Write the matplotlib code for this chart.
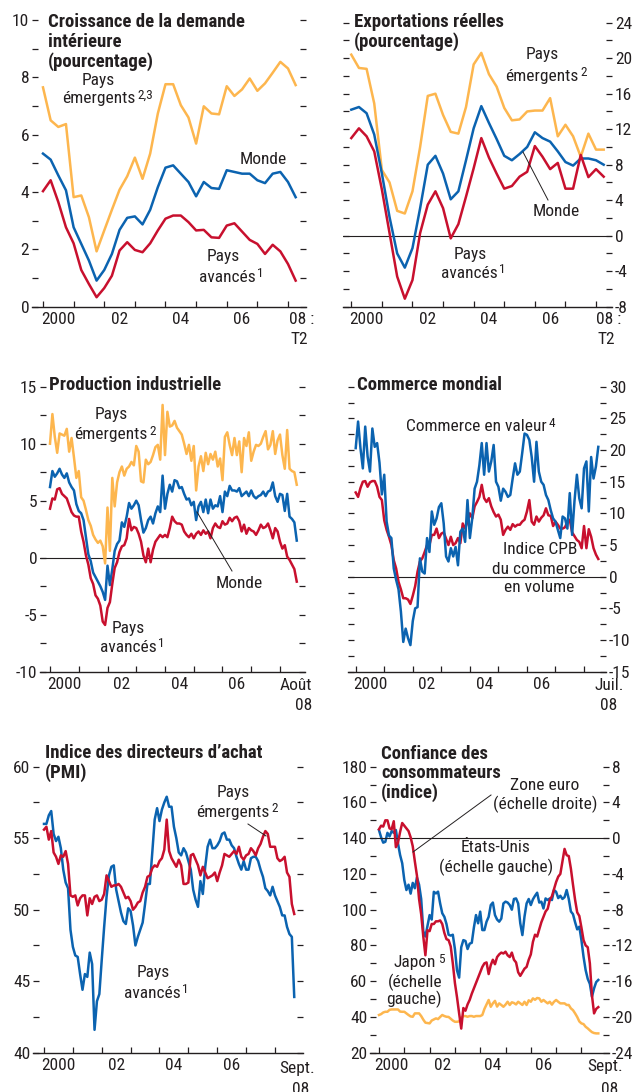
import numpy as np
import matplotlib
matplotlib.use("Agg")
import matplotlib.pyplot as plt
import matplotlib.font_manager as fm
from matplotlib.lines import Line2D

# narrow font if one is installed
names = {f.name for f in fm.fontManager.ttflist}
dejavu_cond = any(f.name == 'DejaVu Sans' and 'condensed' in str(f.stretch)
                  for f in fm.fontManager.ttflist)
if 'Liberation Sans Narrow' in names:
    FAM, FS, STRETCH = 'Liberation Sans Narrow', 12.5, 'normal'
elif 'Roboto Condensed' in names:
    FAM, FS, STRETCH = 'Roboto Condensed', 12.5, 'normal'
elif dejavu_cond:
    FAM, FS, STRETCH = 'DejaVu Sans', 11.5, 'condensed'
else:
    FAM, FS, STRETCH = 'Liberation Sans', 11.5, 'normal'
TFS = FS + 1.0   # titles

plt.rcParams['font.family'] = [FAM, 'DejaVu Sans']
plt.rcParams['font.stretch'] = STRETCH
plt.rcParams['text.color'] = '#231f20'
plt.rcParams['xtick.color'] = '#231f20'
plt.rcParams['ytick.color'] = '#231f20'

YEL = '#FDB64E'
BLUE = '#0B63B0'
RED = '#C8102E'

# ---- data -------------------------------------------------------------
# Croissance de la demande intérieure, trimestriel 2000T1-2008T2
dom_emerging = [7.65, 6.5, 6.27, 6.37, 3.82, 3.88, 3.12, 1.93, 2.66, 3.38, 4.08, 4.55,
                5.2, 4.46, 5.34, 6.74, 7.76, 7.76, 7.03, 6.6, 5.69, 6.99, 6.74, 6.71,
                7.69, 7.35, 7.58, 7.96, 7.53, 7.79, 8.16, 8.54, 8.31, 7.73]
dom_world = [5.34, 5.13, 4.58, 4.06, 2.77, 2.19, 1.61, 0.91, 1.28, 1.84, 2.68, 3.1,
             3.15, 2.87, 3.38, 4.17, 4.85, 4.93, 4.64, 4.35, 3.85, 4.35, 4.14, 4.11,
             4.76, 4.7, 4.64, 4.64, 4.41, 4.31, 4.64, 4.7, 4.35, 3.82]
dom_advanced = [4.03, 4.41, 3.65, 2.77, 2.21, 1.28, 0.79, 0.33, 0.65, 1.08, 1.96, 2.25,
                1.98, 1.9, 2.21, 2.66, 3.07, 3.18, 3.18, 2.95, 2.66, 2.68, 2.42, 2.4,
                2.83, 2.91, 2.62, 2.33, 2.19, 1.84, 2.16, 1.93, 1.49, 0.91]

# Exportations réelles, trimestriel 2000T1-2008T2
exp_emerging = [20.4, 18.9, 18.8, 14.9, 7.4, 6.0, 2.8, 2.5, 5.0, 10.0, 15.75, 16.0,
                13.6, 11.7, 11.5, 14.5, 19.3, 20.6, 18.2, 16.8, 14.4, 13.0, 13.1, 14.0,
                14.1, 14.1, 15.5, 11.2, 12.5, 11.2, 8.9, 11.5, 9.7, 9.7]
exp_world = [14.2, 14.5, 13.8, 11.4, 7.0, 2.1, -2.0, -3.6, -1.4, 3.1, 8.0, 9.0,
             7.0, 4.1, 5.0, 8.5, 12.1, 14.6, 12.7, 10.9, 9.0, 8.5, 9.2, 10.0,
             11.65, 11.0, 10.6, 9.5, 8.3, 7.9, 8.7, 8.7, 8.5, 8.0]
exp_advanced = [11.0, 12.1, 11.2, 9.5, 5.2, 0.3, -4.6, -7.1, -5.0, 0.3, 3.5, 5.0,
                3.1, -0.3, 1.3, 4.4, 7.6, 11.0, 8.8, 7.0, 5.3, 5.6, 6.65, 7.2,
                10.1, 8.9, 7.5, 8.2, 5.3, 5.3, 9.1, 6.6, 7.5, 6.65]

# Production industrielle, mensuel janv. 2000 - août 2008
ip_emerging = [10.0, 12.6, 10.6, 9.2, 10.9, 10.8, 10.7, 11.3, 9.3, 10.5, 8.8, 7.0,
               7.6, 5.3, 5.0, 4.2, 3.3, 2.8, 2.0, 1.6, 1.3, 1.5, 1.0, -0.5,
               4.4, 0.6, 7.0, 4.5, 6.6, 7.5, 8.0, 7.2, 7.8, 8.0, 8.4, 8.1,
               9.8, 9.3, 6.7, 6.6, 8.6, 8.2, 8.4, 9.0, 9.7, 9.9, 8.6, 13.4,
               9.0, 12.8, 11.5, 11.6, 12.0, 11.4, 11.1, 10.8, 10.0, 9.1, 9.9, 8.5,
               9.8, 5.9, 8.0, 8.9, 7.6, 9.2, 8.2, 9.1, 8.6, 9.3, 8.0, 8.7,
               6.8, 10.6, 11.0, 9.9, 9.0, 10.5, 9.0, 10.2, 7.5, 10.5, 9.8, 11.0,
               8.5, 9.3, 9.9, 9.8, 10.0, 10.6, 11.1, 9.5, 9.9, 11.1, 9.1, 10.3,
               10.8, 9.0, 7.8, 11.2, 7.8, 7.6, 7.5, 6.4]
ip_world = [6.2, 7.6, 7.1, 7.4, 7.8, 7.3, 7.0, 7.4, 6.6, 6.2, 5.9, 4.7,
            4.1, 3.9, 3.3, 1.8, 0.3, -0.3, -1.3, -1.7, -2.1, -2.5, -3.0, -3.7,
            -0.7, -2.4, -1.0, 0.6, 1.2, 1.5, 3.1, 2.7, 3.6, 4.8, 4.3, 4.6,
            5.0, 4.6, 3.3, 2.2, 2.6, 3.3, 3.6, 3.0, 3.9, 4.5, 4.0, 7.2,
            4.3, 5.6, 6.4, 5.8, 6.8, 6.7, 6.1, 6.2, 5.6, 5.1, 5.2, 4.6,
            4.9, 3.3, 4.5, 4.9, 4.0, 5.1, 3.9, 5.1, 4.3, 4.6, 4.5, 5.4,
            4.0, 5.8, 5.4, 6.3, 5.9, 5.9, 5.8, 6.1, 5.4, 5.6, 5.8, 5.4,
            5.9, 5.4, 5.2, 5.4, 5.5, 5.8, 5.4, 5.8, 5.9, 6.6, 5.4, 4.9,
            5.6, 5.5, 4.1, 5.6, 3.6, 3.4, 3.1, 1.5]
ip_advanced = [4.3, 5.2, 5.1, 6.0, 6.1, 5.6, 5.4, 5.2, 4.6, 4.0, 3.7, 3.6,
               3.6, 2.3, 1.4, 0.2, -0.6, -1.8, -2.3, -3.3, -3.6, -4.2, -5.6, -5.9,
               -4.4, -3.9, -2.3, -0.9, -0.4, 0.5, 1.0, 1.1, 1.7, 3.4, 2.4, 2.7,
               2.6, 2.1, 1.4, 0.2, -0.4, 0.8, -0.4, 0.7, 1.4, 1.7, 2.0, 1.8,
               2.0, 1.8, 2.6, 3.6, 3.2, 3.0, 3.0, 2.9, 2.3, 2.0, 1.8, 2.1,
               1.7, 2.1, 2.3, 2.0, 2.4, 2.1, 2.3, 1.7, 2.6, 3.0, 2.7, 2.6,
               3.2, 2.9, 3.0, 3.5, 3.2, 3.5, 3.6, 3.2, 2.3, 2.9, 2.1, 2.6,
               2.4, 2.3, 2.0, 2.4, 2.9, 2.6, 2.7, 3.0, 2.4, 1.7, 2.6, 2.3,
               1.4, 0.8, 1.1, 0.1, -0.2, -0.6, -1.0, -2.1]

# Commerce mondial, mensuel janv. 2000 - juil. 2008
trade_value = [20.3, 24.5, 20.3, 17.1, 23.7, 19.0, 16.6, 23.4, 20.5, 21.1, 18.0, 13.0,
               16.1, 8.7, 6.5, 6.1, 1.3, -0.5, -2.0, -5.5, -10.3, -8.2, -9.7, -10.8,
               -7.0, -5.0, -4.8, 2.9, 0.8, 0.5, 6.1, 3.9, 10.3, 8.2, 9.2, 11.0,
               11.6, 8.4, 3.2, 2.4, 4.5, 3.2, 4.7, 1.8, 7.1, 7.6, 5.5, 12.1,
               6.1, 9.2, 13.9, 15.0, 17.6, 21.1, 16.1, 21.1, 16.6, 18.2, 20.8, 15.0,
               14.2, 12.0, 13.9, 13.4, 12.6, 12.9, 15.5, 17.9, 16.1, 16.6, 19.5, 22.6,
               22.4, 21.6, 18.9, 15.0, 21.3, 16.6, 15.0, 14.5, 12.9, 12.1, 10.5, 9.2,
               8.7, 7.4, 6.1, 9.5, 9.2, 7.6, 13.2, 6.6, 12.0, 16.1, 12.4, 10.8,
               17.1, 18.2, 10.3, 18.9, 15.5, 17.4, 20.5]
trade_volume = [13.3, 12.6, 14.0, 15.0, 15.1, 14.2, 14.9, 15.1, 15.1, 14.2, 12.6, 12.1,
                8.9, 7.4, 6.3, 5.0, 2.6, 1.3, -0.8, -2.0, -3.4, -3.4, -3.6, -4.3,
                -3.0, -1.5, 0.8, 2.4, 2.9, 3.9, 5.0, 5.0, 6.6, 6.6, 7.6, 6.1,
                6.8, 7.0, 6.0, 5.0, 6.3, 5.0, 5.3, 6.1, 5.3, 8.4, 7.6, 8.7,
                10.0, 9.2, 11.1, 11.8, 12.6, 14.5, 12.4, 11.8, 12.4, 11.1, 10.2, 9.5,
                9.8, 9.0, 6.6, 7.4, 7.9, 7.4, 8.3, 7.9, 8.2, 8.2, 8.7, 9.0,
                10.3, 12.1, 8.7, 8.2, 9.5, 8.7, 9.3, 9.7, 10.8, 9.7, 9.6, 8.0,
                8.7, 8.2, 7.6, 7.6, 7.8, 8.7, 9.0, 7.0, 6.4, 5.8, 5.5, 4.5,
                8.0, 4.5, 7.5, 6.3, 4.5, 3.5, 2.8]

# PMI, mensuel janv. 2000 - sept. 2008
pmi_advanced = [56.0, 56.0, 56.6, 56.9, 55.3, 54.8, 55.1, 54.3, 52.8, 51.9, 51.5, 48.6,
                47.4, 46.8, 46.7, 45.5, 44.4, 45.5, 45.3, 47.0, 46.2, 41.6, 43.6, 44.1,
                46.5, 48.8, 50.9, 52.4, 53.0, 53.1, 51.4, 50.6, 49.8, 49.2, 49.0, 50.1,
                49.9, 48.9, 47.5, 48.1, 48.6, 49.1, 50.4, 51.8, 51.8, 54.0, 56.3, 57.1,
                56.2, 57.0, 57.5, 57.9, 57.2, 57.2, 55.8, 55.0, 54.0, 53.8, 54.3, 54.0,
                53.4, 52.8, 51.4, 50.7, 50.2, 52.0, 51.1, 53.0, 54.4, 54.9, 54.3, 54.3,
                54.5, 54.8, 55.3, 55.4, 54.9, 54.9, 54.5, 54.3, 53.7, 53.2, 52.8, 53.4,
                52.8, 52.8, 53.6, 53.7, 53.7, 53.4, 52.8, 52.3, 51.5, 51.3, 51.0, 51.6,
                51.0, 50.6, 50.2, 49.6, 49.6, 48.8, 48.3, 48.1, 43.9]
pmi_emerging = [55.6, 55.8, 54.9, 55.5, 54.0, 53.7, 53.2, 53.8, 53.7, 54.1, 53.2, 51.0,
                50.9, 51.0, 50.3, 50.8, 51.0, 51.0, 49.6, 50.8, 50.4, 50.9, 51.0, 50.6,
                50.7, 51.1, 52.4, 52.0, 51.6, 51.7, 51.7, 51.8, 51.6, 51.2, 50.8, 50.9,
                50.6, 50.0, 50.2, 50.5, 50.6, 51.2, 51.6, 52.3, 52.4, 52.9, 53.1, 53.0,
                53.4, 53.6, 54.2, 56.3, 54.1, 53.6, 53.3, 53.0, 53.5, 53.1, 51.8, 51.8,
                51.9, 53.8, 53.9, 53.5, 53.1, 52.4, 53.0, 52.6, 52.2, 52.3, 52.4, 52.6,
                52.0, 52.6, 53.1, 53.9, 53.8, 53.7, 53.9, 54.1, 53.9, 54.4, 53.7, 53.5,
                53.8, 53.9, 54.3, 54.1, 53.8, 54.3, 54.6, 55.1, 55.5, 55.3, 54.4, 54.4,
                54.4, 53.6, 53.4, 53.5, 53.7, 52.6, 52.3, 50.4, 49.7]

# Confiance des consommateurs, mensuel janv. 2000 - sept. 2008
conf_us = [144.5, 140.5, 137.5, 138.0, 143.0, 141.0, 144.0, 143.0, 144.6, 137.1, 130.6, 126.0,
           116.6, 111.0, 114.0, 109.0, 115.0, 112.0, 118.0, 114.0, 106.0, 88.0, 85.0, 91.0,
           97.0, 94.5, 110.0, 109.1, 110.1, 103.5, 98.0, 96.0, 92.0, 86.0, 85.5, 86.0,
           78.0, 66.0, 62.0, 79.0, 83.0, 82.5, 78.0, 81.0, 81.5, 90.0, 97.0, 92.4,
           98.9, 88.6, 88.6, 93.3, 96.0, 102.6, 104.0, 97.0, 94.5, 93.3, 95.0, 103.5,
           104.5, 104.0, 102.6, 100.0, 106.0, 106.3, 103.5, 92.4, 85.8, 96.1, 103.5, 106.0,
           102.6, 105.8, 107.8, 109.5, 104.0, 104.5, 100.7, 106.3, 105.4, 106.3, 105.4, 111.0,
           110.0, 106.5, 107.8, 106.0, 107.0, 111.0, 106.0, 99.0, 97.5, 93.0, 89.0, 90.5,
           83.0, 73.7, 66.2, 61.3, 58.5, 51.3, 56.0, 59.5, 60.7]
conf_euro = [1.0, 1.4, 1.3, 2.0, 2.0, 1.1, 1.0, 1.9, -1.0, -0.5, 0.7, 1.7,
             1.4, 1.1, 0.8, 0.1, -0.9, -2.6, -4.2, -6.8, -8.5, -11.0, -13.1, -10.3,
             -10.4, -9.6, -9.6, -9.3, -9.3, -9.2, -9.6, -10.6, -11.3, -11.4, -12.1, -14.0,
             -16.2, -17.8, -19.6, -21.3, -19.0, -19.3, -18.6, -18.1, -17.4, -16.8, -16.2, -15.6,
             -15.0, -14.4, -14.0, -13.9, -15.2, -14.2, -13.6, -14.1, -13.3, -13.0, -12.8, -12.9,
             -12.7, -13.1, -13.3, -12.8, -13.6, -13.9, -15.0, -15.4, -15.0, -14.6, -14.4, -13.6,
             -13.0, -11.6, -10.8, -11.0, -10.2, -9.4, -8.8, -8.2, -7.9, -6.9, -6.5, -5.7,
             -4.9, -4.3, -4.0, -2.6, -1.2, -1.9, -2.0, -3.4, -5.2, -6.9, -8.3, -8.7,
             -10.0, -11.4, -12.0, -12.2, -14.0, -17.6, -19.6, -19.1, -18.9]
conf_japan = [41.1, 41.6, 42.5, 42.9, 42.9, 44.0, 44.2, 44.2, 44.2, 44.2, 43.0, 42.9,
              42.9, 42.0, 41.1, 40.3, 40.1, 42.0, 42.0, 42.0, 40.5, 38.5, 36.8, 36.6,
              36.4, 38.0, 38.6, 39.2, 38.8, 40.0, 41.1, 40.5, 40.1, 40.0, 39.0, 38.0,
              37.3, 37.3, 37.5, 39.5, 40.5, 40.5, 40.1, 40.5, 40.5, 40.1, 40.5, 40.5,
              40.5, 41.1, 44.5, 47.0, 49.5, 45.7, 47.6, 49.0, 45.8, 47.6, 46.7, 45.7,
              46.9, 48.5, 46.7, 48.2, 47.8, 47.0, 48.5, 47.6, 46.7, 48.5, 46.7, 49.3,
              48.5, 50.4, 49.6, 50.6, 50.4, 48.5, 49.5, 48.5, 47.6, 48.5, 46.9, 48.5,
              49.5, 48.5, 47.6, 47.6, 47.6, 46.7, 46.7, 44.8, 43.8, 42.0, 40.0, 37.5,
              36.4, 36.0, 34.5, 33.6, 32.5, 31.5, 31.0, 30.8, 30.8]

year_labels = ['2000', '02', '04', '06']

quarters = 2000 + np.arange(len(dom_world)) / 4
months_ip = 2000 + np.arange(len(ip_world)) / 12
months_trade = 2000 + np.arange(len(trade_value)) / 12
months_pmi = 2000 + np.arange(len(pmi_advanced)) / 12
months_conf = 2000 + np.arange(len(conf_us)) / 12

# ---- figure -----------------------------------------------------------
W, H = 636, 1092
fig = plt.figure(figsize=(W / 100, H / 100), dpi=100)
R = fig.canvas.get_renderer()
LW = 1.8


def px_axes(x0, x1, y0, y1):
    return fig.add_axes([x0 / W, 1 - y1 / H, (x1 - x0) / W, (y1 - y0) / H])


def ftext(x, y, s, size=None, **kw):
    kw.setdefault('ha', 'center')
    kw.setdefault('va', 'center')
    return fig.text(x / W, 1 - y / H, s, fontsize=size or FS, **kw)


def word_sup(x, y, word, s):
    # word centred at (x, y), superscript just after it
    t = ftext(x, y, word)
    bb = t.get_window_extent(renderer=R)
    fig.text((bb.x1 + 2) / W, (bb.y1 - 4) / H, s, fontsize=9.5,
             ha='left', va='center')


def leader(x0, y0, x1, y1):
    fig.add_artist(Line2D([x0 / W, x1 / W], [1 - y0 / H, 1 - y1 / H],
                          transform=fig.transFigure, color='#231f20', lw=0.7))


def style(ax, xlim, ylim, major, minor, side):
    ax.set_xlim(*xlim)
    ax.set_ylim(*ylim)
    for s in ['top', 'left', 'right']:
        ax.spines[s].set_visible(False)
    ax.spines['bottom'].set_linewidth(1.0)
    ax.spines['bottom'].set_color('#231f20')
    ax.set_xticks(range(2000, 2009))
    ax.set_xticklabels([])
    ax.set_xticks([2000.5, 2002.5, 2004.5, 2006.5], minor=True)
    ax.set_xticklabels(year_labels, minor=True, fontsize=FS)
    ax.tick_params(axis='x', which='major', direction='in', length=4, width=0.9)
    ax.tick_params(axis='x', which='minor', length=0, pad=4)
    ax.set_yticks(major)
    ax.set_yticks(minor, minor=True)
    ax.tick_params(axis='y', which='both', direction='in', length=4.5, width=0.9,
                   left=True, right=True, pad=2, labelsize=FS,
                   labelleft=(side == 'left'), labelright=(side == 'right'))
    ax.set_yticklabels([('%g' % v) for v in major])


# Panel 1 : demande intérieure
ax1 = px_axes(32, 306, 20, 306.7)
ax1.plot(quarters, dom_emerging, color=YEL, lw=LW)
ax1.plot(quarters, dom_world, color=BLUE, lw=LW)
ax1.plot(quarters, dom_advanced, color=RED, lw=LW)
style(ax1, (1999.641, 2008.588), (0, 10), np.arange(0, 11, 2), np.arange(1, 10, 2), 'left')

# Panel 2 : exportations
ax2 = px_axes(343, 612, 22.7, 306.7)
ax2.axhline(0, color='#231f20', lw=0.8)
ax2.plot(quarters, exp_emerging, color=YEL, lw=LW)
ax2.plot(quarters, exp_world, color=BLUE, lw=LW)
ax2.plot(quarters, exp_advanced, color=RED, lw=LW)
style(ax2, (1999.729, 2008.522), (-8, 24), np.arange(-8, 25, 4), np.arange(-6, 24, 4), 'right')

# Panel 3 : production industrielle
ax3 = px_axes(40, 305, 386.7, 671.7)
ax3.axhline(0, color='#231f20', lw=0.8)
ax3.plot(months_ip, ip_emerging, color=YEL, lw=LW)
ax3.plot(months_ip, ip_world, color=BLUE, lw=LW)
ax3.plot(months_ip, ip_advanced, color=RED, lw=LW)
style(ax3, (1999.652, 2008.87), (-10, 15), np.arange(-10, 16, 5), np.arange(-7.5, 15, 5), 'left')

# Panel 4 : commerce mondial
ax4 = px_axes(348, 606, 386.7, 671.7)
ax4.axhline(0, color='#231f20', lw=0.8)
ax4.plot(months_trade, trade_volume, color=RED, lw=LW)
ax4.plot(months_trade, trade_value, color=BLUE, lw=LW)
style(ax4, (1999.73, 2008.77), (-15, 30), np.arange(-15, 31, 5), np.arange(-12.5, 30, 5), 'right')

# Panel 5 : PMI
ax5 = px_axes(33, 303, 766.7, 1052.7)
ax5.plot(months_pmi, pmi_advanced, color=BLUE, lw=LW)
ax5.plot(months_pmi, pmi_emerging, color=RED, lw=LW)
style(ax5, (1999.619, 2008.97), (40, 60), np.arange(40, 61, 5), np.arange(42.5, 60, 5), 'left')

# Panel 6 : confiance des consommateurs
ax6 = px_axes(370, 609, 766.7, 1052.7)
ax6.plot(months_conf, conf_japan, color=YEL, lw=LW)
ax6.plot(months_conf, conf_us, color=BLUE, lw=LW)
style(ax6, (1999.644, 2009.09), (20, 180), np.arange(20, 181, 20), np.arange(30, 180, 20), 'left')
ax6.tick_params(axis='y', which='both', right=False)
ax6b = ax6.twinx()
ax6b.axhline(0, color='#231f20', lw=0.8)
ax6b.plot(months_conf, conf_euro, color=RED, lw=LW)
ax6b.set_xlim(1999.644, 2009.09)
ax6b.set_ylim(-24, 8)
for s in ['top', 'left', 'right', 'bottom']:
    ax6b.spines[s].set_visible(False)
ax6b.set_yticks(np.arange(-24, 9, 4))
ax6b.set_yticks(np.arange(-22, 8, 4), minor=True)
ax6b.set_yticklabels([('%g' % v) for v in np.arange(-24, 9, 4)])
ax6b.tick_params(axis='y', which='both', direction='in', length=4.5, width=0.9,
                 left=False, right=True, pad=2, labelsize=FS)

# ---- last x labels ----------------------------------------------------
ftext(289, 319, '08 :', ha='left')
ftext(290, 339, 'T2', ha='left')
ftext(596, 319, '08 :', ha='left')
ftext(597, 339, 'T2', ha='left')
ftext(312, 686, 'Août', ha='right')
ftext(312, 705, '08', ha='right')
ftext(609, 686, 'Juil.')
ftext(609, 706, '08')
ftext(297, 1068, 'Sept.')
ftext(301, 1090, '08')
ftext(605, 1067, 'Sept.')
ftext(610, 1090, '08')

# ---- titles -----------------------------------------------------------
for i, s in enumerate(['Croissance de la demande', 'intérieure', '(pourcentage)']):
    ftext(48, 22 + 20 * i, s, size=TFS, ha='left', fontweight='bold')
for i, s in enumerate(['Exportations réelles', '(pourcentage)']):
    ftext(354, 22 + 20 * i, s, size=TFS, ha='left', fontweight='bold')
ftext(49, 385, 'Production industrielle', size=TFS, ha='left', fontweight='bold')
ftext(357, 385, 'Commerce mondial', size=TFS, ha='left', fontweight='bold')
for i, s in enumerate(['Indice des directeurs d\u2019achat', '(PMI)']):
    ftext(45, 753 + 20 * i, s, size=TFS, ha='left', fontweight='bold')
for i, s in enumerate(['Confiance des', 'consommateurs', '(indice)']):
    ftext(381, 754 + 19.5 * i, s, size=TFS, ha='left', fontweight='bold')

# ---- annotations ------------------------------------------------------
ftext(98, 80, 'Pays')
word_sup(99, 99, 'émergents', '2,3')
ftext(263, 159, 'Monde')
ftext(223, 257, 'Pays')
word_sup(227, 277, 'avancés', '1')

ftext(542, 54, 'Pays')
word_sup(542, 76, 'émergents', '2')
ftext(556, 212, 'Monde')
leader(548, 200, 523, 152)
ftext(470, 254, 'Pays')
word_sup(469, 273, 'avancés', '1')

ftext(111, 414, 'Pays')
word_sup(111, 435, 'émergents', '2')
ftext(239, 583, 'Monde')
leader(232, 571, 197, 512)
ftext(128, 628, 'Pays')
word_sup(128, 647, 'avancés', '1')

word_sup(476, 427, 'Commerce en valeur', '4')
ftext(540, 550, 'Indice CPB')
ftext(539, 569, 'du commerce')
ftext(539, 587, 'en volume')

ftext(233, 792, 'Pays')
word_sup(233, 812, 'émergents', '2')
leader(248, 824, 266, 836)
ftext(153, 973, 'Pays')
word_sup(152, 993, 'avancés', '1')

ftext(545, 786, 'Zone euro')
ftext(545, 804, '(échelle droite)')
leader(491, 795, 413, 852)
ftext(496, 848, 'États-Unis')
ftext(496, 867, '(échelle gauche)')
word_sup(415, 963, 'Japon', '5')
ftext(415, 982, '(échelle')
ftext(414, 999, 'gauche)')

fig.savefig('out.png', dpi=100)
